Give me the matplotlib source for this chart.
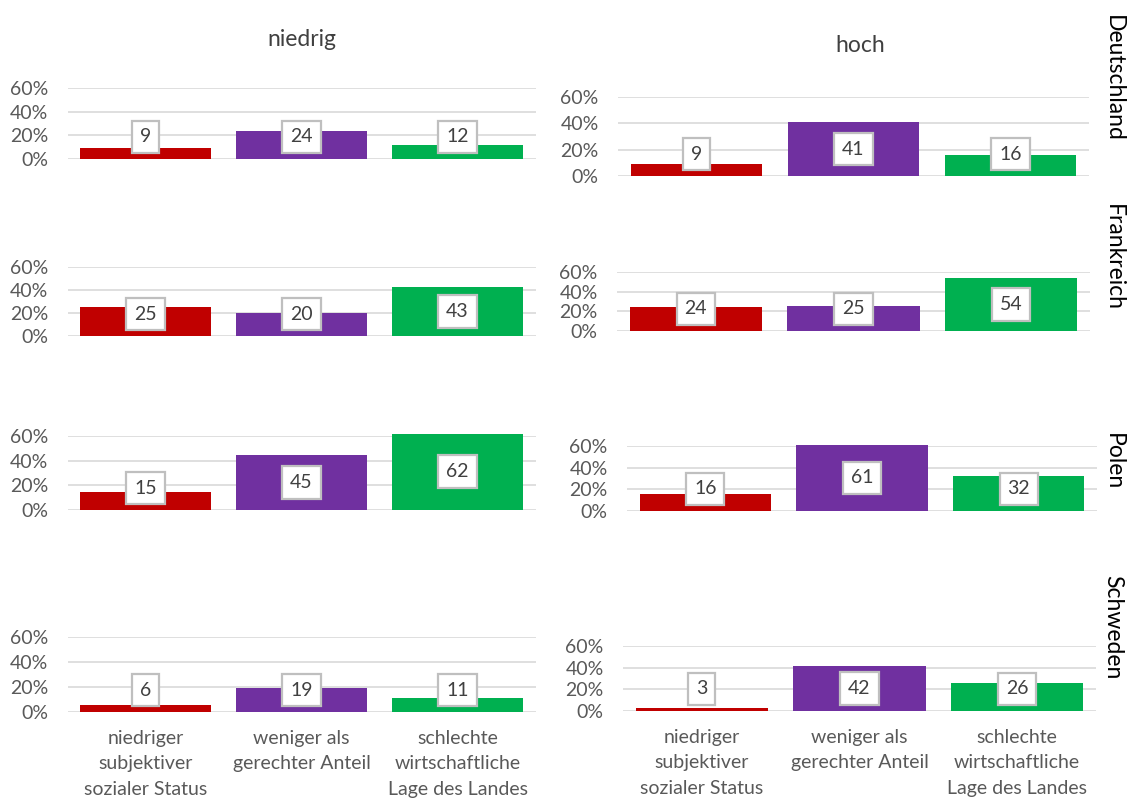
import matplotlib.pyplot as plt

plt.rcParams['font.family'] = ['Lato', 'DejaVu Sans']

kategorien = ["niedriger\nsubjektiver\nsozialer Status",
              "weniger als\ngerechter Anteil",
              "schlechte\nwirtschaftliche\nLage des Landes"]
laender = ["Deutschland", "Frankreich", "Polen", "Schweden"]
gruppen = ["niedrig", "hoch"]

niedrig = [[9, 24, 12],
           [25, 20, 43],
           [15, 45, 62],
           [6, 19, 11]]
hoch = [[9, 41, 16],
        [24, 25, 54],
        [16, 61, 32],
        [3, 42, 26]]
werte = [niedrig, hoch]

farben = ["#C00000", "#7030A0", "#00B050"]
ticks = [0, 0.2, 0.4, 0.6]
tick_labels = ["0%", "20%", "40%", "60%"]

W, H = 1128, 798
fig = plt.figure(figsize=(W / 100, H / 100), dpi=100)

# panel boxes in pixels: (x_left, x_right, y_top(60%), y_bottom(0%))
boxen = [
    [(67.5, 535.5, 88, 159), (618, 1089, 97, 176)],
    [(67.5, 535.5, 267, 336), (617, 1090, 272, 331)],
    [(67.5, 535.5, 436, 510), (627, 1097, 446, 511)],
    [(67.5, 535.5, 637, 712), (623, 1096, 646, 711)],
]

for r in range(4):
    for c in range(2):
        x0, x1, yt, yb = boxen[r][c]
        ax = fig.add_axes([x0 / W, 1 - yb / H, (x1 - x0) / W, (yb - yt) / H])
        vals = werte[c][r]
        ax.bar(range(3), [v / 100 for v in vals], width=0.84, color=farben,
               zorder=2, clip_on=False)
        ax.set_xlim(-0.5, 2.5)
        ax.set_ylim(0, 0.6)
        ax.set_yticks(ticks)
        ax.set_yticklabels(tick_labels)
        ax.grid(axis='y', color='#D9D9D9', lw=1.2, zorder=0)
        ax.tick_params(axis='y', length=0, pad=14, labelsize=14, labelcolor='#595959')
        for s in ax.spines.values():
            s.set_visible(False)
        if r == 3:
            ax.set_xticks(range(3))
            ax.set_xticklabels(kategorien, fontsize=14, color='#595959',
                               linespacing=1.6, va='top')
            ax.tick_params(axis='x', length=0, pad=13)
        else:
            ax.set_xticks([])
        hpx = yb - yt
        min_y = 22 / hpx * 0.6
        for i, v in enumerate(vals):
            y = max(v / 200, min_y)
            ax.text(i, y, str(v), ha='center', va='center', fontsize=14,
                    color='#404040', zorder=4,
                    bbox=dict(boxstyle='square,pad=0.4', fc='white',
                              ec='#BFBFBF', lw=1.6))

fig.text(302 / W, 1 - 40 / H, gruppen[0], ha='center', va='center',
         fontsize=16.5, color='#404040')
fig.text(860 / W, 1 - 46 / H, gruppen[1], ha='center', va='center',
         fontsize=16.5, color='#404040')

for name, yc in zip(laender, [78, 258, 462, 627]):
    fig.text(1113 / W, 1 - yc / H, name, ha='center', va='center',
             rotation=-90, fontsize=16.5, color='black')

fig.savefig("out.png", dpi=100)
